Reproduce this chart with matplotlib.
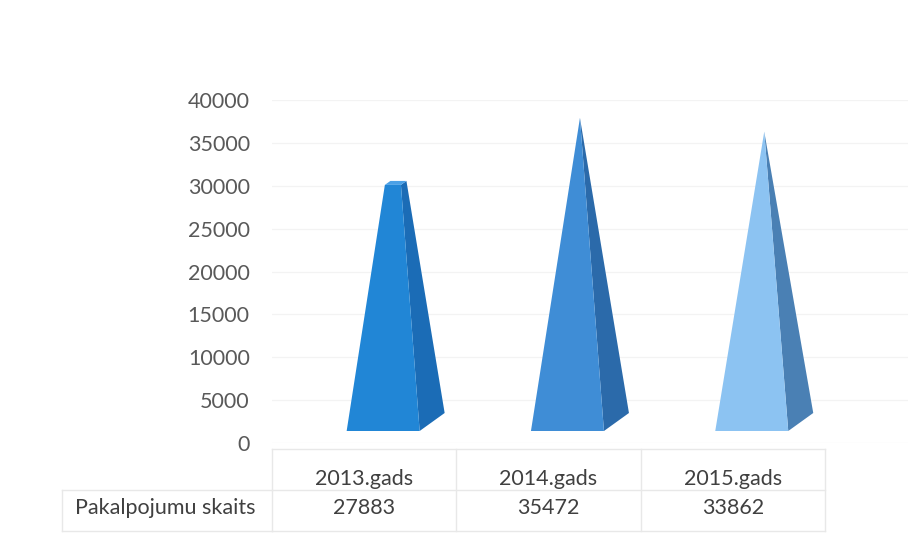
import matplotlib.pyplot as plt
import numpy as np
from matplotlib.patches import Polygon

plt.rcParams['font.family'] = ['Lato', 'DejaVu Sans']

years = ['2013.gads', '2014.gads', '2015.gads']
values = [27883, 35472, 33862]
row_label = 'Pakalpojumu skaits'
yticks = np.arange(0, 40001, 5000)

front_colors = ['#2186d6', '#3f8dd6', '#8cc3f2']
side_colors = ['#1b6cb6', '#2b6aaa', '#4a80b4']
top_colors = ['#4aa0e6', '#5aa0e0', '#a8d2f6']
# the first shape is cut flat at its top
top_frac = [0.22, 0.0, 0.0]

W, H = 924, 541
fig = plt.figure(figsize=(W / 100, H / 100), dpi=100)

# pixel geometry of the plot area
px_left, px_right = 272, 908
px_zero, px_top = 443, 100
unit = 184.3  # pixels per category
xmax = -0.5 + (px_right - px_left) / unit

ax = fig.add_axes([px_left / W, (H - px_zero) / H,
                   (px_right - px_left) / W, (px_zero - px_top) / H])
ax.set_xlim(-0.5, xmax)
ax.set_ylim(0, 40000)
for s in ax.spines.values():
    s.set_visible(False)
ax.set_xticks([])
ax.set_yticks(yticks)
ax.tick_params(axis='y', length=0, pad=16, labelsize=15.5, labelcolor='#595959')
ax.yaxis.grid(True, color='#f3f3f3', linewidth=0.9)
ax.set_axisbelow(True)

# 3D look: front face, side face, perspective offsets
ppv = (px_zero - px_top) / 40000.0   # pixels per value unit
shift = 19 / unit                    # front centre offset from column
hw = 36.5 / unit                     # half width of front face
dx = 25 / unit                       # depth offset, x
dy = 18 / ppv                        # depth offset, y
y0 = 12 / ppv                        # front base lift

for i, v in enumerate(values):
    c = i + shift
    fl = np.array([c - hw, y0])
    fr = np.array([c + hw, y0])
    br = np.array([c + hw + dx, y0 + dy])
    bl = np.array([c - hw + dx, y0 + dy])
    ctr = (fl + br) / 2
    top = np.array([ctr[0], v + y0 + dy / 2])
    f = top_frac[i]
    tfl, tfr, tbr, tbl = [top + f * (p - ctr) for p in (fl, fr, br, bl)]
    ax.add_patch(Polygon([fr, br, tbr, tfr], closed=True,
                         facecolor=side_colors[i], edgecolor='none', zorder=3))
    ax.add_patch(Polygon([fl, fr, tfr, tfl], closed=True,
                         facecolor=front_colors[i], edgecolor='none', zorder=4))
    if f > 0:
        ax.add_patch(Polygon([tfl, tfr, tbr, tbl], closed=True,
                             facecolor=top_colors[i], edgecolor='none', zorder=5))

# data table under the plot
tb_top, tb_bot = 449, 531
tax = fig.add_axes([px_left / W, (H - tb_bot) / H,
                    (px_right - px_left) / W, (tb_bot - tb_top) / H])
tax.set_xlim(-0.5, xmax)
tax.set_ylim(2, 0)
tax.axis('off')
line_kw = dict(color='#e8e8e8', linewidth=1.0, clip_on=False)
n = len(years)
for yy in (0, 1, 2):
    tax.plot([-0.5, n - 0.5], [yy, yy], **line_kw)
for xx in np.arange(-0.5, n, 1.0):
    tax.plot([xx, xx], [0, 2], **line_kw)
lab_left = -0.5 - (px_left - 62) / unit
tax.plot([lab_left, -0.5], [1, 1], **line_kw)
tax.plot([lab_left, -0.5], [2, 2], **line_kw)
tax.plot([lab_left, lab_left], [1, 2], **line_kw)

txt_kw = dict(va='center', fontsize=15.5, color='#404040')
for i, (yr, v) in enumerate(zip(years, values)):
    tax.text(i, 0.74, yr, ha='center', **txt_kw)
    tax.text(i, 1.45, str(v), ha='center', **txt_kw)
tax.text(lab_left + 0.07, 1.45, row_label, ha='left', **txt_kw)

fig.savefig('out.png', dpi=100, facecolor='white')
